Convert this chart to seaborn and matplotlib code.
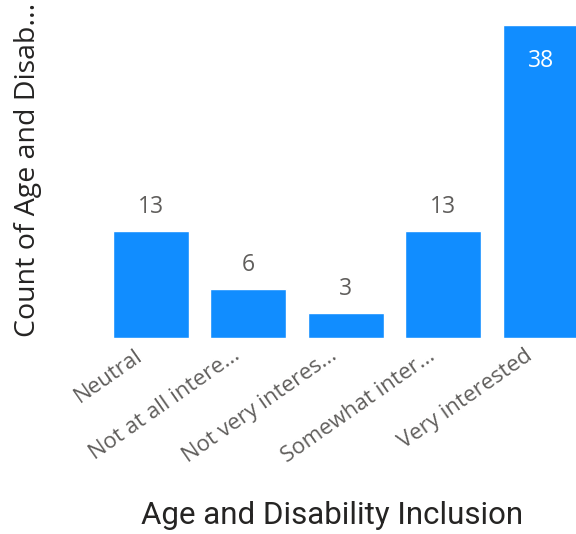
import pandas as pd
import seaborn as sns
import matplotlib.pyplot as plt

# Chart data
categories = ["Neutral", "Not at all intere...", "Not very interes...",
              "Somewhat inter...", "Very interested"]
counts = [13, 6, 3, 13, 38]

df = pd.DataFrame({"category": categories, "count": counts})

sns.set_theme(style="white")
plt.rcParams["font.family"] = ["Open Sans", "DejaVu Sans"]

fig = plt.figure(figsize=(5.76, 5.34), dpi=100)
ax = fig.add_axes([102 / 576, (534 - 338) / 534, (576 - 102) / 576, 313 / 534])

sns.barplot(data=df, x="category", y="count", color="#118DFF",
            width=0.78, saturation=1, ax=ax)

ax.set_xlim(-0.5, 4.36)
ax.set_ylim(0, 38)
for s in ax.spines.values():
    s.set_visible(False)
ax.set_yticks([])
ax.set_xlabel("")
ax.set_ylabel("")
ax.tick_params(axis="x", length=0, labelbottom=False)

# rotated category labels, end sits a little left of the bar centre
for i, cat in enumerate(categories):
    ax.annotate(cat, (i, 0), xytext=(-12, -5), textcoords="offset points",
                rotation=35, ha="right", va="top", rotation_mode="anchor",
                fontsize=16, color="#605E5C", annotation_clip=False)

# value labels
for i, v in enumerate(counts):
    if v == max(counts):
        ax.annotate(str(v), (i, v), xytext=(0, -30), textcoords="offset points",
                    ha="center", va="baseline", fontsize=16.5, color="white")
    else:
        ax.annotate(str(v), (i, v), xytext=(0, 13), textcoords="offset points",
                    ha="center", va="baseline", fontsize=16.5, color="#605E5C")

fig.text(28 / 576, 1 - 170 / 534, "Count of Age and Disab...", rotation=90,
         ha="center", va="center", fontsize=20.5, color="#252423")
fig.text(332 / 576, 1 - 515 / 534, "Age and Disability Inclusion",
         ha="center", va="center", fontsize=22.5, color="#252423",
         family=["Roboto", "DejaVu Sans"])

fig.savefig("out.png", dpi=100)
